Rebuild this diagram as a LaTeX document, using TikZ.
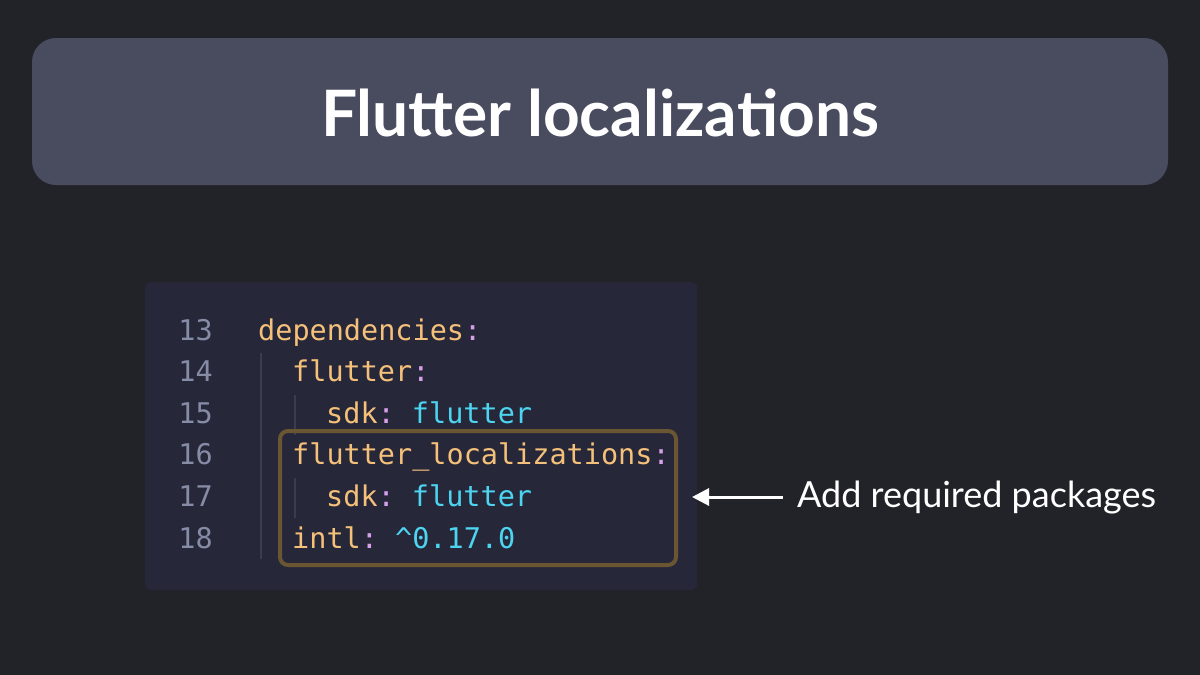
\documentclass[tikz,border=0pt]{standalone}
\usepackage{fontspec}
\setmainfont{Lato}
\newfontfamily\codefont{DejaVu Sans Mono}
\usetikzlibrary{arrows.meta}
\definecolor{bgc}{HTML}{222229}
\definecolor{titlebg}{HTML}{494B5F}
\definecolor{codebg}{HTML}{262739}
\definecolor{lnum}{HTML}{868CA6}
\definecolor{guide}{HTML}{3A3C50}
\definecolor{keyc}{HTML}{F5C07A}
\definecolor{valc}{HTML}{4CD4F0}
\definecolor{colc}{HTML}{D7A0E8}
\definecolor{hlc}{HTML}{6A5633}
\frenchspacing
\tikzset{
  lnumber/.style={anchor=base east,inner sep=0pt,text=lnum,font=\codefont\fontsize{28.5}{30}\selectfont},
  codeline/.style={anchor=base west,inner sep=0pt,font=\codefont\fontsize{28.5}{30}\selectfont},
  guideline/.style={draw=guide,line width=1.5pt},
}
\newcommand{\K}[1]{\textcolor{keyc}{#1}}
\newcommand{\V}[1]{\textcolor{valc}{#1}}
\newcommand{\C}{\textcolor{colc}{:}}
\begin{document}
\begin{tikzpicture}[x=1pt,y=-1pt]
\fill[bgc] (0,0) rectangle (1200,675);
\useasboundingbox (0,0) rectangle (1200,675);
% title
\fill[titlebg,rounded corners=24pt] (32,38) rectangle (1168,185);
\node[anchor=base,inner sep=0pt,text=white,font=\bfseries\fontsize{64}{70}\selectfont] (title) at (600,136) {Flutter localizations};
% code box
\fill[codebg,rounded corners=6pt] (145,282) rectangle (697,590);
% guides
\draw[guideline] (261,353) -- (261,559);
\draw[guideline] (295,395) -- (295,435);
\draw[guideline] (295,478) -- (295,518);
% line numbers
\foreach \n/\y in {13/340,14/381.6,15/423.2,16/464.8,17/506.4,18/548}
  \node[lnumber] (ln\n) at (213,\y) {\n};
% code
\node[codeline] (c13) at (258,340) {\K{dependencies}\C};
\node[codeline] (c14) at (292,381.6) {\K{flutter}\C};
\node[codeline] (c15) at (326,423.2) {\K{sdk}\C\V{~flutter}};
\node[codeline] (c16) at (292,464.8) {\K{flutter\_localizations}\C};
\node[codeline] (c17) at (326,506.4) {\K{sdk}\C\V{~flutter}};
\node[codeline] (c18) at (292,548) {\K{intl}\C\V{~\^{}0.17.0}};
% highlight
\draw[hlc,line width=4pt,rounded corners=8pt] (280,431) rectangle (676,565);
\coordinate (hl) at (692,497);
% label + arrow
\node[anchor=base west,inner sep=0pt,text=white,font=\fontsize{36}{40}\selectfont] (lbl) at (797,507) {Add required packages};
\coordinate (as) at (783,497);
\draw[white,line width=3pt,-{Triangle[length=17pt,width=17pt]}] (as) -- (hl);
\end{tikzpicture}
\end{document}
